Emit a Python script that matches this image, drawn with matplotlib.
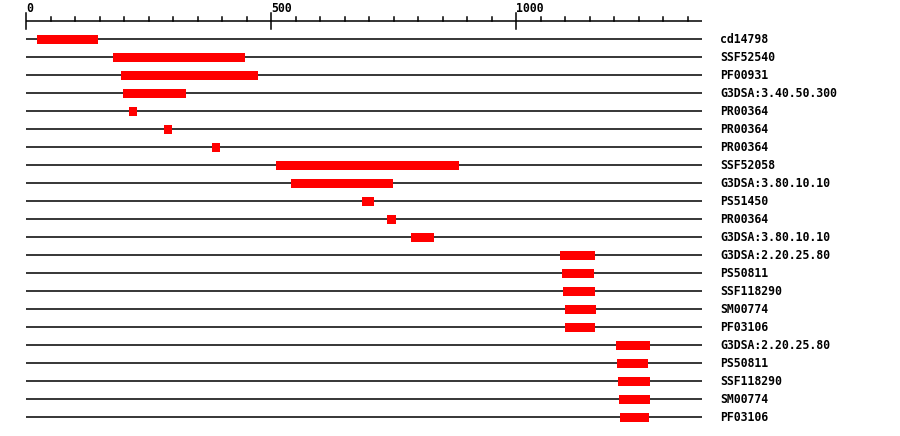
import matplotlib
matplotlib.use("Agg")
from matplotlib import pyplot as plt

seq_len = 1378
labels = ["cd14798", "SSF52540", "PF00931", "G3DSA:3.40.50.300", "PR00364",
          "PR00364", "PR00364", "SSF52058", "G3DSA:3.80.10.10", "PS51450",
          "PR00364", "G3DSA:3.80.10.10", "G3DSA:2.20.25.80", "PS50811",
          "SSF118290", "SM00774", "PF03106", "G3DSA:2.20.25.80", "PS50811",
          "SSF118290", "SM00774", "PF03106"]
starts = [22, 177, 193, 197, 210, 281, 379, 510, 540, 685, 736, 785,
          1089, 1093, 1095, 1099, 1099, 1203, 1205, 1208, 1210, 1212]
ends = [146, 446, 473, 325, 225, 297, 395, 883, 748, 710, 754, 832,
        1161, 1159, 1161, 1163, 1161, 1273, 1269, 1273, 1273, 1271]
major_ticks = [0, 500, 1000]

fig = plt.figure(figsize=(9, 4.36), dpi=100)
ax = fig.add_axes([0, 0, 1, 1])
ax.set_xlim(-53.7, 1783)
ax.set_ylim(22.04, -2.183)
ax.axis("off")

font = dict(family="DejaVu Sans Mono", weight="bold", size=8.3)

# ruler
ax.plot([0, seq_len], [-1, -1], color="black", lw=1.1, solid_capstyle="butt")
for t in range(0, seq_len, 50):
    if t in major_ticks:
        ax.plot([t, t], [-1.44, -0.57], color="black", lw=1.1)
        ax.text(t, -1.52, str(t), ha="left", va="baseline", **font)
    else:
        ax.plot([t, t], [-1.24, -1], color="black", lw=1.1)

# tracks
for i, (lab, s, e) in enumerate(zip(labels, starts, ends)):
    ax.plot([0, seq_len], [i, i], color="black", lw=1.1, zorder=1,
            solid_capstyle="butt")
    ax.barh(i, e - s, left=s, height=0.5, color="#ff0000", zorder=2)
    ax.text(1416, i, lab, ha="left", va="center", **font)

fig.savefig("out.png", dpi=100)
